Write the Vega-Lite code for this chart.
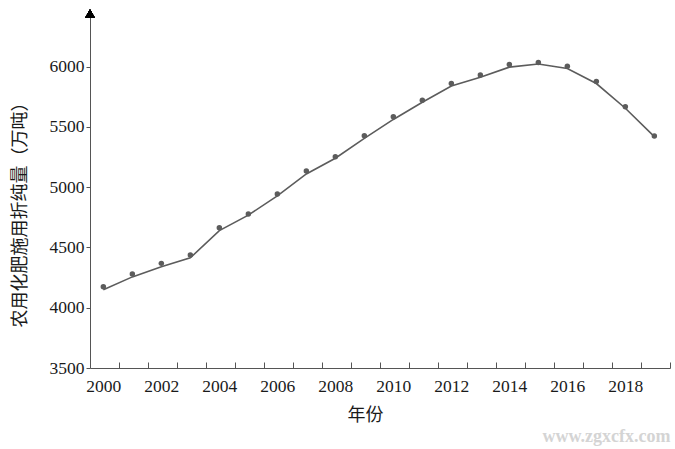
{
  "$schema": "https://vega.github.io/schema/vega-lite/v6.json",
  "autosize": "none",
  "width": 580,
  "height": 358,
  "padding": {"left": 90, "top": 10, "right": 5, "bottom": 81},
  "background": "white",
  "config": {"view": {"stroke": null}},
  "title": {
    "text": "www.zgxcfx.com",
    "orient": "bottom",
    "anchor": "end",
    "font": "Liberation Serif",
    "fontSize": 18,
    "fontWeight": "bold",
    "color": "#d4d4d4",
    "offset": 4
  },
  "data": {
    "values": [
      {"year": 2000, "point": 4174, "line": 4150},
      {"year": 2001, "point": 4279, "line": 4256},
      {"year": 2002, "point": 4368, "line": 4340},
      {"year": 2003, "point": 4437, "line": 4414},
      {"year": 2004, "point": 4663, "line": 4640},
      {"year": 2005, "point": 4777, "line": 4768},
      {"year": 2006, "point": 4943, "line": 4928},
      {"year": 2007, "point": 5134, "line": 5110},
      {"year": 2008, "point": 5252, "line": 5240},
      {"year": 2009, "point": 5426, "line": 5405},
      {"year": 2010, "point": 5584, "line": 5562},
      {"year": 2011, "point": 5722, "line": 5705},
      {"year": 2012, "point": 5861, "line": 5840},
      {"year": 2013, "point": 5930, "line": 5912},
      {"year": 2014, "point": 6018, "line": 5996},
      {"year": 2015, "point": 6035, "line": 6022},
      {"year": 2016, "point": 6004, "line": 5985},
      {"year": 2017, "point": 5877, "line": 5860},
      {"year": 2018, "point": 5667, "line": 5655},
      {"year": 2019, "point": 5424, "line": 5420}
    ]
  },
  "resolve": {"scale": {"x": "independent"}, "axis": {"x": "independent"}},
  "layer": [
    {
      "mark": {"type": "line", "color": "#5c5c5c", "strokeWidth": 1.6},
      "encoding": {
        "x": {
          "field": "year",
          "type": "quantitative",
          "scale": {"domain": [1999.54, 2019.54], "nice": false, "zero": false},
          "axis": {
            "orient": "bottom",
            "values": [2000, 2002, 2004, 2006, 2008, 2010, 2012, 2014, 2016, 2018],
            "format": "d",
            "ticks": false,
            "labelOverlap": false,
            "labelFlush": false,
            "labelBound": false,
            "labelFont": "Liberation Serif",
            "labelFontSize": 17.5,
            "labelColor": "#1a1a1a",
            "labelPadding": 9,
            "domainColor": "#555555",
            "grid": false,
            "title": "年份",
            "titleFont": "Noto Sans CJK SC",
            "titleFontSize": 18,
            "titleFontWeight": "normal",
            "titleColor": "#1a1a1a",
            "titleX": 275,
            "titleY": 47,
            "titleAlign": "center",
            "titleBaseline": "middle"
          }
        },
        "y": {
          "field": "line",
          "type": "quantitative",
          "scale": {"domain": [3500, 6470], "nice": false, "zero": false},
          "axis": {
            "values": [3500, 4000, 4500, 5000, 5500, 6000],
            "format": "d",
            "labelFont": "Liberation Serif",
            "labelFontSize": 17.5,
            "labelColor": "#1a1a1a",
            "labelPadding": 2,
            "tickSize": 4,
            "tickColor": "#555555",
            "domainColor": "#555555",
            "grid": false,
            "title": "农用化肥施用折纯量（万吨）",
            "titleFont": "Noto Sans CJK SC",
            "titleFontSize": 18,
            "titleFontWeight": "normal",
            "titleColor": "#1a1a1a",
            "titleX": -70,
            "titleY": 200,
            "titleAngle": -90,
            "titleAlign": "center",
            "titleBaseline": "middle"
          }
        }
      }
    },
    {
      "mark": {"type": "point", "filled": true, "color": "#5c5c5c", "size": 30, "opacity": 1},
      "encoding": {
        "x": {
          "field": "year",
          "type": "quantitative",
          "scale": {"domain": [1999.54, 2019.54], "nice": false, "zero": false},
          "axis": {
            "orient": "bottom",
            "offset": -6,
            "values": [2000.54, 2001.54, 2002.54, 2003.54, 2004.54, 2005.54, 2006.54, 2007.54, 2008.54, 2009.54, 2010.54, 2011.54, 2012.54, 2013.54, 2014.54, 2015.54, 2016.54, 2017.54, 2018.54, 2019.54],
            "labels": false,
            "domain": false,
            "grid": false,
            "ticks": true,
            "tickSize": 6,
            "tickColor": "#555555",
            "title": null
          }
        },
        "y": {"field": "point", "type": "quantitative"}
      }
    },
    {
      "mark": {"type": "point", "shape": "triangle-up", "filled": true, "color": "#000000", "size": 85, "opacity": 1},
      "encoding": {
        "x": {"datum": 1999.54, "type": "quantitative", "scale": {"domain": [1999.54, 2019.54], "nice": false, "zero": false}, "axis": null},
        "y": {"datum": 6440, "type": "quantitative"}
      }
    }
  ]
}
